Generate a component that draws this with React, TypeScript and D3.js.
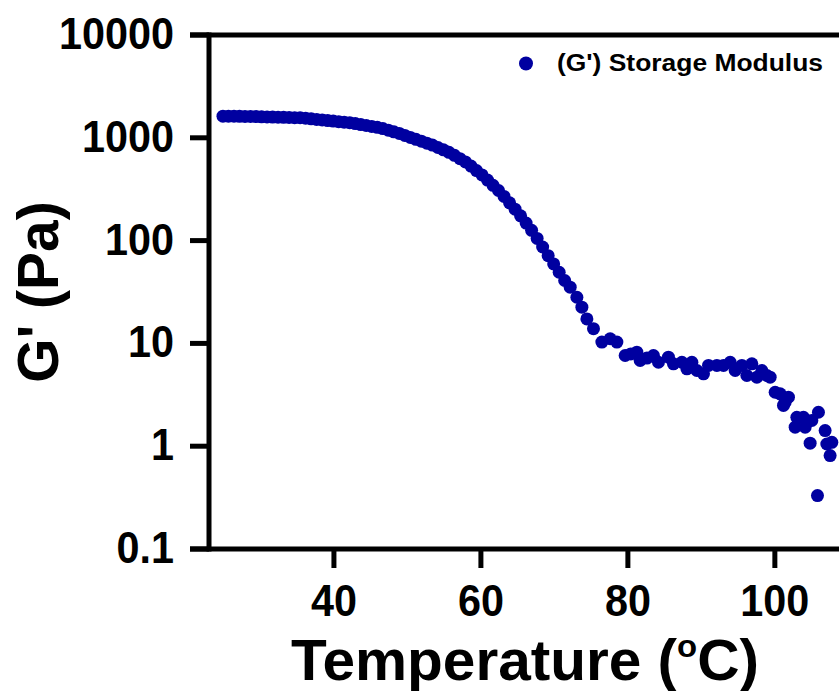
import React from "react";
import * as d3 from "d3";

// Temperature (°C) and storage modulus G' (Pa)
const temperature: number[] = [
  24.9, 25.65, 26.4, 27.15, 27.9, 28.65, 29.4, 30.15, 30.9, 31.65,
  32.4, 33.15, 33.9, 34.65, 35.4, 36.15, 36.9, 37.65, 38.4, 39.15,
  39.9, 40.65, 41.4, 42.15, 42.9, 43.65, 44.4, 45.15, 45.9, 46.65,
  47.4, 48.15, 48.9, 49.65, 50.4, 51.15, 51.9, 52.65, 53.4, 54.15,
  54.9, 55.65, 56.4, 57.15, 57.9, 58.65, 59.4, 60.15, 60.9, 61.65,
  62.4, 63.15, 63.9, 64.65, 65.4, 66.15, 66.9, 67.65, 68.4, 69.15,
  69.9, 70.65, 71.4,
  72.15, 73.06, 73.74, 74.42, 75.32, 76.46, 77.59, 78.5, 79.63, 80.4,
  81.22, 81.67, 82.6, 83.48, 84.16, 85.52, 86.2, 87.35, 88.03, 88.71,
  89.39, 90.29, 90.97, 92.11, 93.01, 93.92, 94.6, 95.51, 96.19, 96.87,
  97.55, 98.23, 98.91, 99.36, 100.04, 100.72, 101.17, 101.4, 101.85, 102.76,
  102.99, 103.89, 104.12, 104.35, 104.8, 105.03, 105.8, 105.93, 106.84, 107.07,
  107.52, 107.75,
];

const storageModulus: number[] = [
  1622, 1622, 1622, 1618, 1614, 1611, 1607, 1600, 1596, 1592,
  1585, 1581, 1578, 1570, 1567, 1549, 1528, 1510, 1493, 1472,
  1455, 1435, 1419, 1403, 1374, 1346, 1318, 1291, 1265, 1230,
  1186, 1143, 1102, 1054, 1009, 966, 927, 887, 849, 805,
  764, 723, 675, 627, 583, 531, 480, 435, 388, 345,
  307, 269, 233, 202, 174, 148, 126, 105, 86.7, 71.4,
  59.3, 49.2, 40.9,
  35.2, 28.1, 22.5, 17.3, 13.9, 10.3, 11.1, 10.3, 7.63, 7.9,
  8.21, 6.82, 7.2, 7.63, 6.56, 7.34, 6.33, 6.56, 5.66, 6.56,
  5.45, 5.06, 6.1, 6.1, 6.1, 6.56, 5.45, 6.1, 4.87, 6.33,
  4.69, 5.45, 4.87, 4.69, 3.35, 3.23, 2.49, 2.68, 3.0, 1.53,
  1.91, 1.91, 1.53, 1.71, 1.07, 1.78, 0.331, 2.14, 1.42, 1.05,
  0.81, 1.09,
];

const xTickValues: number[] = [40, 60, 80, 100];
const yTickValues: number[] = [0.1, 1, 10, 100, 1000, 10000];
const yTickLabels: string[] = ["0.1", "1", "10", "100", "1000", "10000"];
const legendLabel = "(G') Storage Modulus";
const xTitle = "Temperature (";
const yTitle = "G' (Pa)";

const W = 839;
const H = 691;
const COLOR = "#0000a0";
const FONT = "'Liberation Sans', Arial, Helvetica, sans-serif";
const TICK_SX = 0.94;

export default function App() {
  const x = d3.scaleLinear().domain([23, 109]).range([209, 841]);
  const y = d3.scaleLog().domain([0.1, 10000]).range([549, 35]);
  const data = temperature.map((t, i) => ({ t, v: storageModulus[i] }));
  const axisW = 5;
  const x0 = x.range()[0];
  const yBottom = y(0.1);
  const yTop = y(10000);

  return (
    <svg
      width={W}
      height={H}
      style={{ position: "absolute", left: 0, top: 0, background: "#fff" }}
      fontFamily={FONT}
    >
      {/* points */}
      <g fill={COLOR}>
        {data.map((d, i) => (
          <circle key={i} cx={x(d.t)} cy={y(d.v)} r={6.5} />
        ))}
      </g>

      {/* axes */}
      <g stroke="#000" strokeWidth={axisW} strokeLinecap="butt">
        <line x1={x0} x2={x0} y1={yTop - axisW / 2} y2={yBottom + axisW / 2} />
        <line x1={190} x2={W + 5} y1={yBottom} y2={yBottom} />
        <line x1={190} x2={W + 5} y1={yTop} y2={yTop} />
        {yTickValues.map((v) => (
          <line key={v} x1={190} x2={x0} y1={y(v)} y2={y(v)} />
        ))}
        {xTickValues.map((v) => (
          <line key={v} x1={x(v)} x2={x(v)} y1={yBottom} y2={yBottom + 19} />
        ))}
      </g>

      {/* y tick labels */}
      <g fontSize={44} fontWeight="bold" textAnchor="end" fill="#000">
        {yTickValues.map((v, i) => (
          <text
            key={v}
            transform={`translate(174, ${y(v) + 14}) scale(${TICK_SX}, 1)`}
          >
            {yTickLabels[i]}
          </text>
        ))}
      </g>

      {/* x tick labels */}
      <g fontSize={44} fontWeight="bold" textAnchor="middle" fill="#000">
        {xTickValues.map((v) => (
          <text key={v} transform={`translate(${x(v)}, 616) scale(${TICK_SX}, 1)`}>
            {v}
          </text>
        ))}
      </g>

      {/* x title */}
      <text
        x={525}
        y={680}
        fontSize={57}
        fontWeight="bold"
        textAnchor="middle"
        fill="#000"
        textLength={468}
        lengthAdjust="spacingAndGlyphs"
      >
        {xTitle}
        <tspan fontSize={32} dy={-23}>o</tspan>
        <tspan dy={23}>C)</tspan>
      </text>

      {/* y title */}
      <text
        transform={`translate(58, ${(yTop + yBottom) / 2}) rotate(-90)`}
        fontSize={57}
        fontWeight="bold"
        textAnchor="middle"
        fill="#000"
      >
        {yTitle}
      </text>

      {/* legend */}
      <circle cx={526} cy={63.5} r={7} fill={COLOR} />
      <text
        x={557}
        y={71}
        fontSize={23}
        fontWeight="bold"
        fill="#000"
        textLength={266}
        lengthAdjust="spacingAndGlyphs"
      >
        {legendLabel}
      </text>
    </svg>
  );
}
